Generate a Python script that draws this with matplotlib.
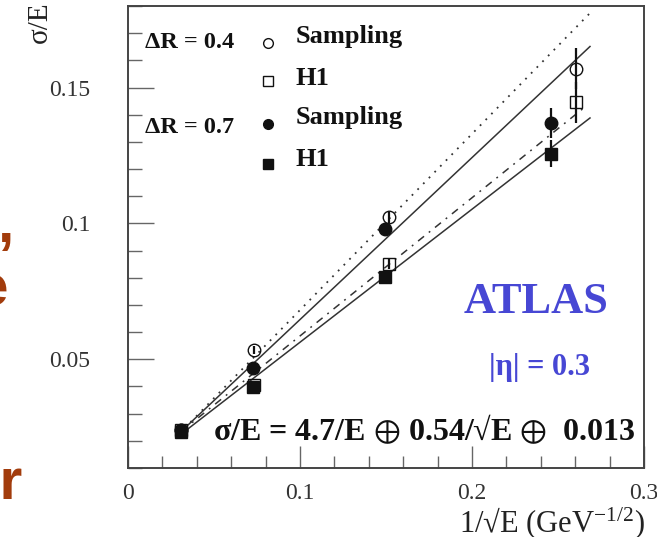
import matplotlib
matplotlib.use("Agg")
import matplotlib.pyplot as plt
from matplotlib.ticker import MultipleLocator

# ---------------- data ----------------
# Delta R = 0.4 (open symbols)
x_r04 = [0.031, 0.073, 0.1515, 0.2605]
samp_r04 = [0.0240, 0.0534, 0.1023, 0.1570]
samp_r04_err = [0.0010, 0.0015, 0.0020, 0.0075]
h1_r04 = [0.0238, 0.0405, 0.0851, 0.1445]
h1_r04_err = [0.0010, 0.0012, 0.0020, 0.0075]

# Delta R = 0.7 (filled symbols)
x_r07 = [0.031, 0.0725, 0.1495, 0.2460]
samp_r07 = [0.0238, 0.0468, 0.0981, 0.1370]
samp_r07_err = [0.0008, 0.0010, 0.0012, 0.0055]
h1_r07 = [0.0232, 0.0398, 0.0803, 0.1256]
h1_r07_err = [0.0008, 0.0010, 0.0012, 0.0050]

# fitted curves (end points)
dotted_x = [0.033, 0.2686]
dotted_y = [0.0247, 0.1774]
upper_x = [0.031, 0.2686]
upper_y = [0.0235, 0.1651]
dashdot_x = [0.031, 0.266]
dashdot_y = [0.0235, 0.1430]
lower_x = [0.031, 0.2686]
lower_y = [0.0225, 0.1388]

xticks = [0, 0.1, 0.2, 0.3]
xticklabels = ["0", "0.1", "0.2", "0.3"]
yticks = [0.05, 0.1, 0.15]
yticklabels = ["0.05", "0.1", "0.15"]

SERIF = ["Liberation Serif", "DejaVu Serif"]
BLUE = "#4747d4"
ORANGE = "#a23c0c"
INK = "#111111"

plt.rcParams["font.family"] = SERIF
plt.rcParams["mathtext.fontset"] = "stix"

fig = plt.figure(figsize=(6.57, 5.37), dpi=100)
ax = fig.add_axes([128 / 657, 1 - 468 / 537, 516 / 657, 462 / 537])
ax.set_xlim(0, 0.3)
ax.set_ylim(0.01, 0.18)

# fitted lines
lw = 1.1
ax.plot(dotted_x, dotted_y, color="#333333", lw=1.3, linestyle=(0, (1.0, 3.5)))
ax.plot(upper_x, upper_y, color="#333333", lw=lw)
ax.plot(dashdot_x, dashdot_y, color="#333333", lw=lw, linestyle=(0, (5, 4, 1.2, 4)))
ax.plot(lower_x, lower_y, color="#333333", lw=lw)

# data points
ms = 9
ax.errorbar(x_r04, samp_r04, yerr=samp_r04_err, fmt="o", mfc="none", mec=INK,
            ecolor=INK, ms=ms, mew=1.0, elinewidth=1.6, capsize=0, zorder=3)
ax.errorbar(x_r04, h1_r04, yerr=h1_r04_err, fmt="s", mfc="none", mec=INK,
            ecolor=INK, ms=ms, mew=1.0, elinewidth=1.6, capsize=0, zorder=3)
ax.errorbar(x_r07, samp_r07, yerr=samp_r07_err, fmt="o", mfc=INK, mec=INK,
            ecolor=INK, ms=ms, mew=1.0, elinewidth=1.6, capsize=0, zorder=4)
ax.errorbar(x_r07, h1_r07, yerr=h1_r07_err, fmt="s", mfc=INK, mec=INK,
            ecolor=INK, ms=ms, mew=1.0, elinewidth=1.6, capsize=0, zorder=4)

# axes styling
for side in ["left", "bottom", "top", "right"]:
    ax.spines[side].set_color("#444444")
    ax.spines[side].set_linewidth(1.4)
ax.set_xticks(xticks)
ax.set_xticklabels(xticklabels)
ax.set_yticks(yticks)
ax.set_yticklabels(yticklabels)
ax.xaxis.set_minor_locator(MultipleLocator(0.02))
ax.yaxis.set_minor_locator(MultipleLocator(0.01))
ax.tick_params(which="both", direction="in", top=False, right=False, color="#666666",
               width=1.0)
ax.tick_params(axis="x", which="major", length=16, pad=11, labelsize=17, labelcolor="#333333")
ax.tick_params(axis="y", which="major", length=19, pad=27, labelsize=17, labelcolor="#333333")
ax.tick_params(axis="x", which="minor", length=9)
ax.tick_params(axis="y", which="minor", length=10)

# axis titles
fig.text(40 / 657, 1 - 1 / 537, "σ/E", rotation=90, ha="center", va="top",
         fontsize=21, color="#222222")
fig.text(645 / 657, 1 - 524 / 537, r"1/√E (GeV$^{\mathregular{-1/2}}$)", ha="right",
         va="center", fontsize=22, color="#222222")

# legend (manual, in axes fraction)
tr = ax.transAxes
tkw = dict(transform=tr, fontweight="bold", color=INK, va="center")
ax.text(0.033, 0.920, "ΔR = 0.4", fontsize=17.5, **tkw)
ax.text(0.033, 0.738, "ΔR = 0.7", fontsize=17.5, **tkw)
ax.text(0.324, 0.933, "Sampling", fontsize=19, **tkw)
ax.text(0.324, 0.844, "H1", fontsize=19, **tkw)
ax.text(0.324, 0.758, "Sampling", fontsize=19, **tkw)
ax.text(0.324, 0.667, "H1", fontsize=19, **tkw)
lms = 7
ax.plot([0.271], [0.920], "o", mfc="white", mec=INK, ms=lms, transform=tr)
ax.plot([0.271], [0.838], "s", mfc="white", mec=INK, ms=lms, transform=tr)
ax.plot([0.271], [0.745], "o", mfc=INK, mec=INK, ms=lms, transform=tr)
ax.plot([0.271], [0.658], "s", mfc=INK, mec=INK, ms=lms, transform=tr)

# annotations
ax.text(0.791, 0.359, "ATLAS", transform=tr, ha="center", va="center",
        fontsize=32, fontweight="bold", color=BLUE)
ax.text(0.798, 0.2165, "|η| = 0.3", transform=tr, ha="center", va="center",
        fontsize=22, fontweight="bold", color=BLUE)
ax.text(0.165, 0.082, r"σ/E = 4.7/E $\oplus$ 0.54/√E $\oplus$  0.013", transform=tr,
        ha="left", va="center", fontsize=23, fontweight="bold", color=INK)

# cropped slide text fragments at the left edge
okw = dict(fontsize=42, fontweight="bold", color=ORANGE, ha="right", va="baseline",
           family=["Liberation Sans", "DejaVu Sans"])
fig.text(14 / 657, 1 - 242 / 537, ",", **okw)
fig.text(8 / 657, 1 - 306 / 537, "e", **okw)
fig.text(23 / 657, 1 - 500 / 537, "er", **okw)

fig.savefig("out.png", dpi=100)
